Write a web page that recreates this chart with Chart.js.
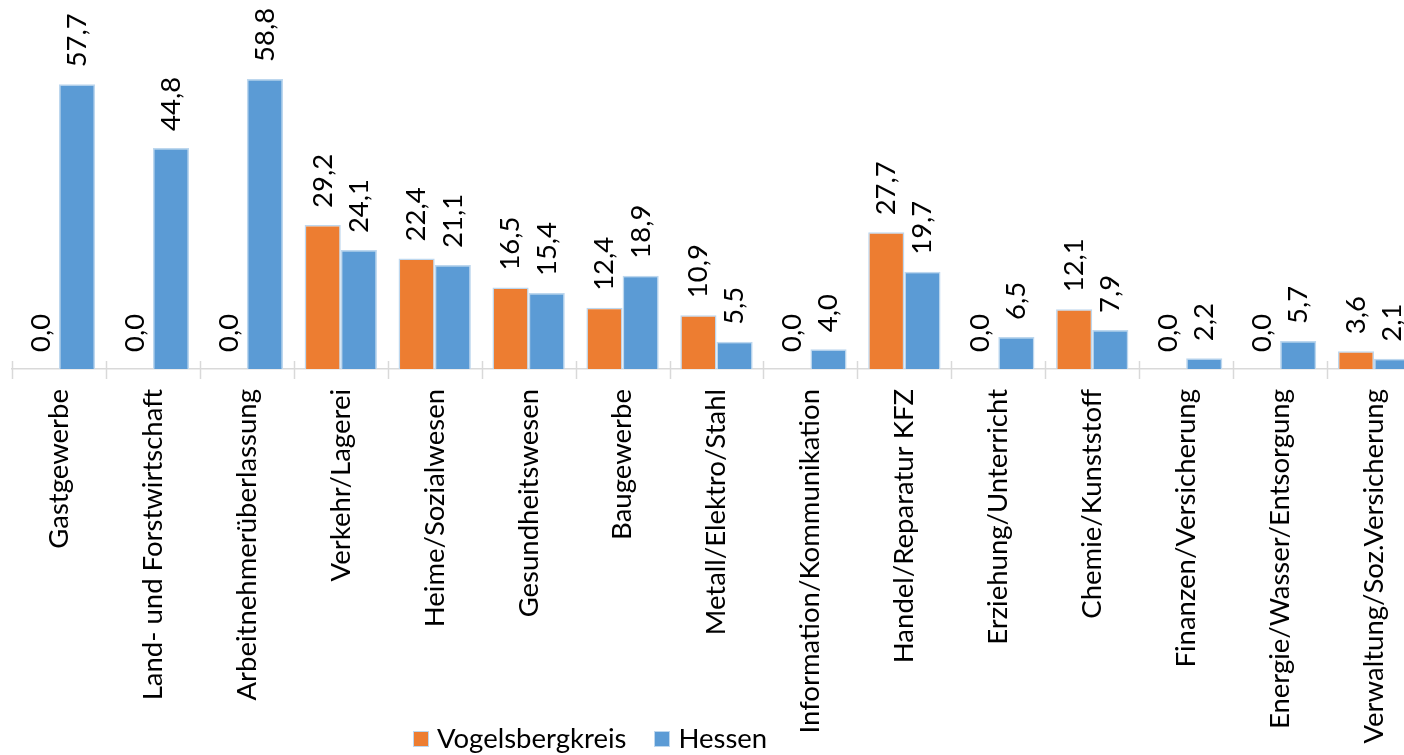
<!DOCTYPE html>
<html>
<head>
<meta charset="utf-8">
<script src="https://cdn.jsdelivr.net/npm/chart.js@4"></script>
<style>
  html, body { margin: 0; padding: 0; background: #fff; overflow: hidden; }
  #wrap { position: relative; width: 1432px; height: 755px; }
  #legend { position: absolute; left: 413px; top: 721px; font-family: Lato, sans-serif; font-size: 27.5px; color: #000; white-space: nowrap; }
  #legend span.box { display: inline-block; width: 14px; height: 14px; margin-right: 8px; border: 1px solid #bdd7ee; vertical-align: 1px; }
  #legend span.item { margin-right: 28px; }
</style>
</head>
<body>
<div id="wrap">
  <canvas id="bar_Chart"></canvas>
  <div id="legend"></div>
</div>
<script>
const categories = ["Gastgewerbe", "Land- und Forstwirtschaft", "Arbeitnehmerüberlassung", "Verkehr/Lagerei",
  "Heime/Sozialwesen", "Gesundheitswesen", "Baugewerbe", "Metall/Elektro/Stahl", "Information/Kommunikation",
  "Handel/Reparatur KFZ", "Erziehung/Unterricht", "Chemie/Kunststoff", "Finanzen/Versicherung",
  "Energie/Wasser/Entsorgung", "Verwaltung/Soz.Versicherung"];
const vogelsberg = [0.0, 0.0, 0.0, 29.2, 22.4, 16.5, 12.4, 10.9, 0.0, 27.7, 0.0, 12.1, 0.0, 0.0, 3.6];
const hessen = [57.7, 44.8, 58.8, 24.1, 21.1, 15.4, 18.9, 5.5, 4.0, 19.7, 6.5, 7.9, 2.2, 5.7, 2.1];
const series_names = ["Vogelsbergkreis", "Hessen"];
const series_colors = ["#ed7d31", "#5b9bd5"];

const font_family = "Lato, sans-serif";
const font_size = 27.5;

// value labels above each bar, rotated like the x labels
const value_labels = {
  id: 'value_labels',
  afterDatasetsDraw(chart) {
    const ctx = chart.ctx;
    ctx.save();
    ctx.font = font_size + "px " + font_family;
    ctx.fillStyle = "#000";
    ctx.textAlign = "left";
    ctx.textBaseline = "middle";
    chart.data.datasets.forEach((ds, i) => {
      chart.getDatasetMeta(i).data.forEach((bar, j) => {
        const txt = ds.data[j].toFixed(1).replace('.', ',');
        ctx.save();
        ctx.translate(bar.x, bar.y - 17);
        ctx.rotate(-Math.PI / 2);
        ctx.fillText(txt, 0, 0);
        ctx.restore();
      });
    });
    ctx.restore();
  }
};

// tick marks crossing the axis between categories
const cross_ticks = {
  id: 'cross_ticks',
  afterDraw(chart) {
    const x = chart.scales.x;
    const ctx = chart.ctx;
    const step = x.width / chart.data.labels.length;
    ctx.save();
    ctx.strokeStyle = "#d9d9d9";
    ctx.lineWidth = 1.5;
    for (let i = 0; i <= chart.data.labels.length; i++) {
      const px = Math.round(x.left + i * step) + 0.5;
      ctx.beginPath();
      ctx.moveTo(px, x.top - 8);
      ctx.lineTo(px, x.top + 10);
      ctx.stroke();
    }
    ctx.restore();
  }
};

const chart_canvas = document.querySelector("#bar_Chart");
let chart = new Chart(chart_canvas.getContext('2d'), {
  type: 'bar',
  data: {
    labels: categories,
    datasets: [{
      label: series_names[0],
      data: vogelsberg,
      backgroundColor: series_colors[0],
      borderColor: '#bdd7ee',
      borderWidth: 1.5
    }, {
      label: series_names[1],
      data: hessen,
      backgroundColor: series_colors[1],
      borderColor: '#bdd7ee',
      borderWidth: 1.5
    }]
  },
  options: {
    responsive: true,
    maintainAspectRatio: false,
    animation: false,
    layout: { padding: { left: 12, right: 11, top: 0, bottom: 0 } },
    categoryPercentage: 0.77,
    barPercentage: 1.0,
    plugins: {
      legend: { display: false },
      tooltip: { enabled: false }
    },
    scales: {
      y: { display: false, min: 0, max: 74.8 },
      x: {
        grid: { display: false, drawTicks: false },
        border: { color: '#d9d9d9', width: 1.5 },
        ticks: {
          color: '#000',
          font: { family: font_family, size: font_size },
          maxRotation: 90,
          minRotation: 90,
          padding: 20,
          autoSkip: false
        },
        afterFit(scale) { scale.height = 386; }
      }
    }
  },
  plugins: [value_labels, cross_ticks]
});

// html legend
const legend = document.querySelector('#legend');
legend.innerHTML = series_names.map((n, i) =>
  '<span class="item"><span class="box" style="background:' + series_colors[i] + '"></span>' + n + '</span>').join('');
</script>
</body>
</html>
